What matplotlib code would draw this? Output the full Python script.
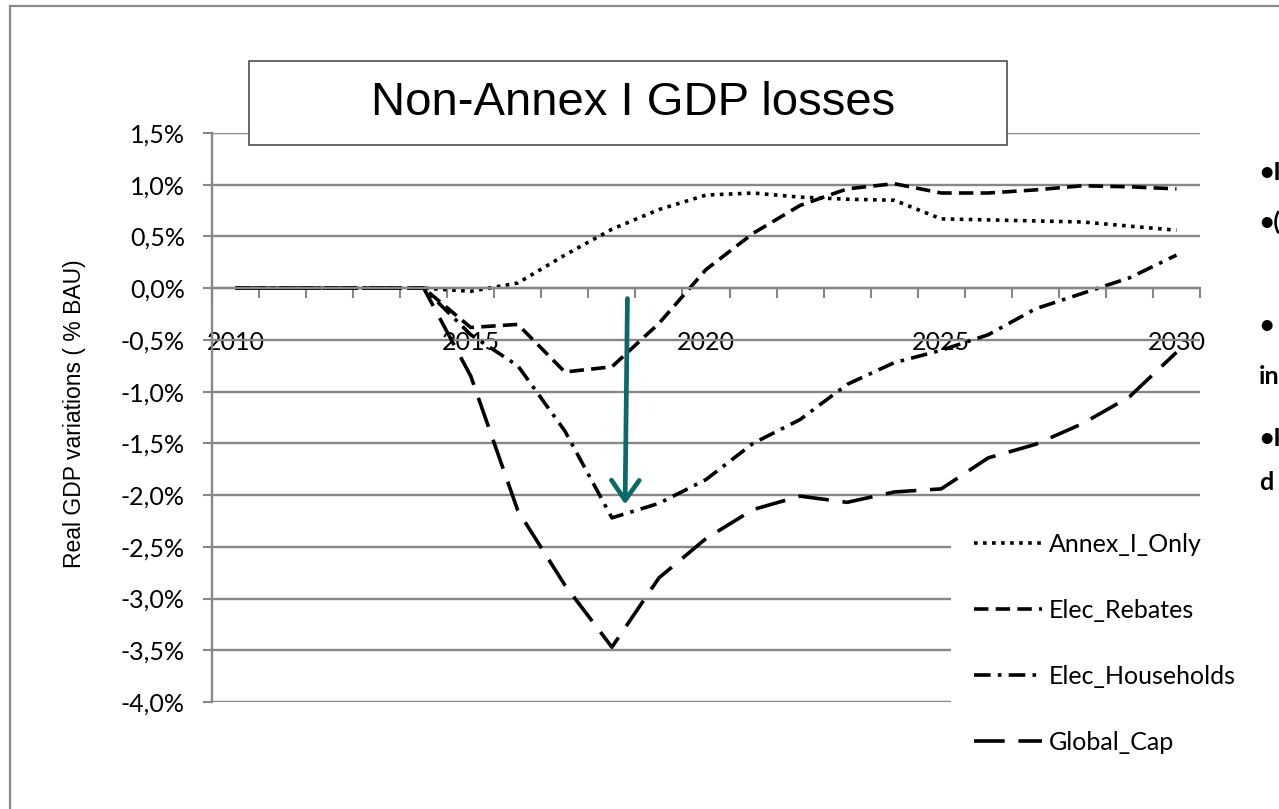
"""Non-Annex I GDP losses: real GDP variation vs BAU, four policy scenarios."""
import matplotlib
matplotlib.use("Agg")
import matplotlib.pyplot as plt
from matplotlib.lines import Line2D
from matplotlib.patches import Rectangle

years = list(range(2010, 2031))
annex_i_only = [0, 0, 0, 0, 0, -0.03, 0.05, 0.32, 0.57, 0.76, 0.90, 0.92, 0.88, 0.86,
                0.85, 0.67, 0.66, 0.65, 0.64, 0.60, 0.56]
elec_rebates = [0, 0, 0, 0, 0, -0.38, -0.35, -0.81, -0.76, -0.34, 0.18, 0.53, 0.80, 0.96,
                1.01, 0.92, 0.92, 0.95, 0.99, 0.98, 0.96]
elec_households = [0, 0, 0, 0, 0, -0.45, -0.75, -1.38, -2.22, -2.08, -1.85, -1.50, -1.27,
                   -0.93, -0.72, -0.60, -0.45, -0.20, -0.05, 0.10, 0.32]
global_cap = [0, 0, 0, 0, 0, -0.85, -2.15, -2.87, -3.47, -2.80, -2.42, -2.14, -2.01, -2.07,
              -1.97, -1.94, -1.64, -1.51, -1.31, -1.05, -0.62]
labelled_years = [2010, 2015, 2020, 2025, 2030]
yticks = [1.5, 1.0, 0.5, 0.0, -0.5, -1.0, -1.5, -2.0, -2.5, -3.0, -3.5, -4.0]
side_notes = [("•I", 172), ("•(", 222), ("•", 325), ("in", 377), ("•I", 438), ("d", 483)]

W, H = 1279, 809
GRID = "#878787"
TEAL = "#0b6a68"
FONT = "Lato"

fig = plt.figure(figsize=(W / 100, H / 100), dpi=100)
ax = fig.add_axes([212 / W, 1 - 702 / H, (1200 - 212) / W, (702 - 133) / H])

lw = 2.6
ax.plot(years, annex_i_only, color="black", lw=lw, ls=(0, (1, 1.5)), label="Annex_I_Only")
ax.plot(years, elec_rebates, color="black", lw=lw, ls=(0, (4, 2)), label="Elec_Rebates")
ax.plot(years, elec_households, color="black", lw=lw, ls=(0, (4.6, 2, 1, 2)),
        label="Elec_Households")
ax.plot(years, global_cap, color="black", lw=lw, ls=(0, (8.5, 3.8)), label="Global_Cap")

ax.set_xlim(2009.5, 2030.5)
ax.set_ylim(-4.0, 1.5)
ax.set_yticks(yticks)
ax.set_yticklabels([f"{v:.1f}%".replace(".", ",") for v in yticks])
ax.yaxis.grid(True, color=GRID, lw=1.7)
ax.set_axisbelow(True)

# category axis: tick marks between years, labels every five years
ax.set_xticks([y + 0.5 for y in [2009] + years])
ax.set_xticklabels([])
ax.set_xticks(labelled_years, minor=True)
ax.set_xticklabels([str(y) for y in labelled_years], minor=True)
ax.tick_params(axis="x", which="major", length=7.5, width=1.5, color=GRID, direction="out")
ax.tick_params(axis="x", which="minor", length=0, pad=31, labelsize=18,
               labelfontfamily=FONT)
ax.tick_params(axis="y", length=6.5, width=1.5, color=GRID, pad=13, labelsize=18,
               labelfontfamily=FONT)

for s in ("top", "right"):
    ax.spines[s].set_visible(False)
ax.spines["bottom"].set_position(("data", 0))
for s in ("bottom", "left"):
    ax.spines[s].set_color(GRID)
    ax.spines[s].set_linewidth(1.7)

fig.text(75 / W, 1 - 414 / H, "Real GDP variations ( % BAU)", rotation=90, fontsize=16.5,
         family="Liberation Sans", ha="center", va="center")

ax.annotate("", xy=(2018.28, -2.09), xytext=(2018.33, -0.10),
            arrowprops=dict(arrowstyle="->,head_length=0.72,head_width=0.5",
                            color=TEAL, lw=3.4, mutation_scale=20,
                            shrinkA=0, shrinkB=0))

leg = ax.legend(loc="upper left", bbox_to_anchor=(951 / W, 1 - 510 / H),
                bbox_transform=fig.transFigure, frameon=True, framealpha=1,
                edgecolor="none", fancybox=False, borderaxespad=0, borderpad=0.9,
                handlelength=2.75, handletextpad=0.25, labelspacing=1.72,
                prop={"family": FONT, "size": 18})
leg.get_frame().set_linewidth(0)

# title box
fig.add_artist(Rectangle((249 / W, 1 - 145 / H), (1007 - 249) / W, (145 - 61) / H,
                         transform=fig.transFigure, facecolor="white",
                         edgecolor="#4d4d4d", lw=1.2, zorder=5))
fig.text(633 / W, 1 - 103 / H, "Non-Annex I GDP losses", fontsize=34,
         family="Liberation Sans", ha="center", va="center", zorder=6)

# outer slide frame
fig.add_artist(Line2D([10 / W, 1.0], [1 - 6 / H, 1 - 6 / H], transform=fig.transFigure,
                      color="#8a8a8a", lw=1.6))
fig.add_artist(Line2D([10 / W, 10 / W], [0, 1 - 6 / H], transform=fig.transFigure,
                      color="#8a8a8a", lw=1.6))

# bullet text fragments from the slide's right margin
for txt, ypx in side_notes:
    fig.text(1259 / W, 1 - ypx / H, txt, fontsize=18, family=FONT,
             fontweight="bold", ha="left", va="center")

fig.savefig("out.png", dpi=100)
